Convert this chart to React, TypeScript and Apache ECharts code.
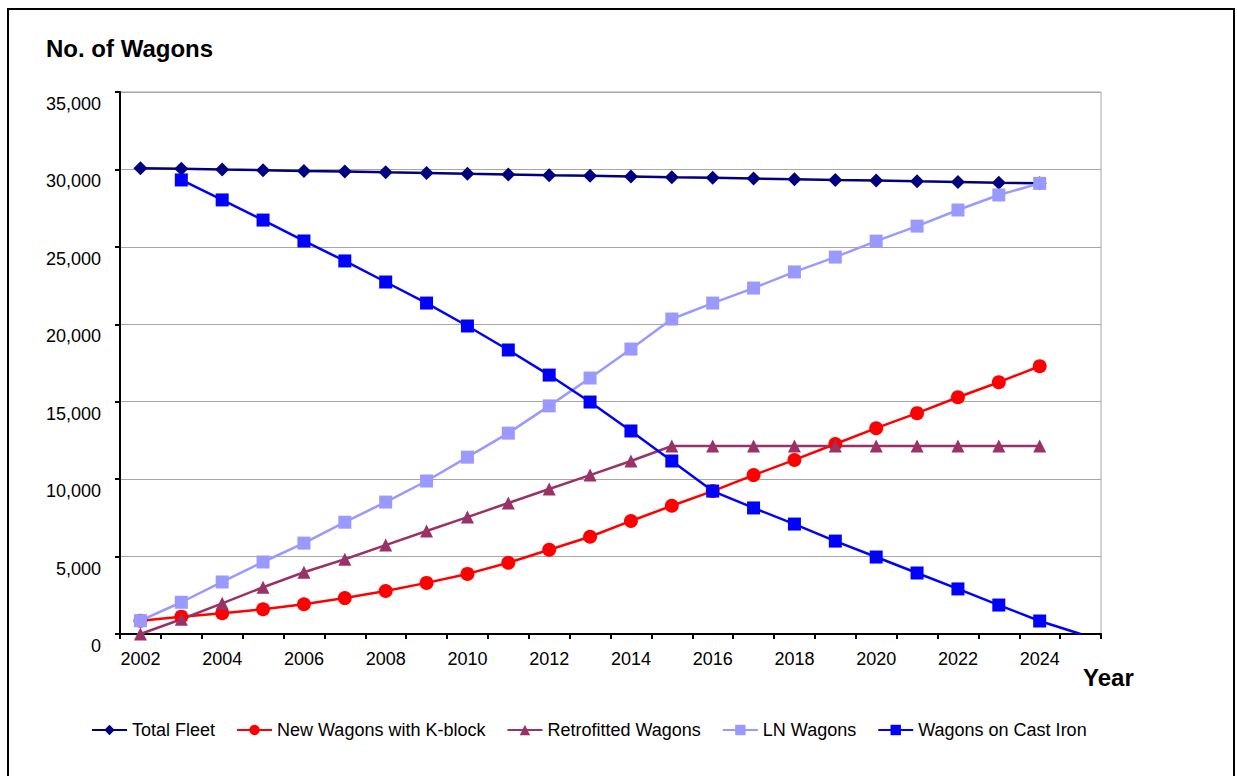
import React, { useEffect, useRef } from "react";
import * as echarts from "echarts";

const years = [
  "2002", "2003", "2004", "2005", "2006", "2007", "2008", "2009", "2010", "2011", "2012", "2013",
  "2014", "2015", "2016", "2017", "2018", "2019", "2020", "2021", "2022", "2023", "2024", "2025",
];

const totalFleet = [
  30080, 30040, 29990, 29950, 29900, 29860, 29810, 29770, 29720, 29680, 29630, 29590,
  29550, 29500, 29460, 29410, 29370, 29320, 29280, 29230, 29190, 29140, 29100, null,
];

const newKBlock = [
  860, 1120, 1340, 1600, 1920, 2320, 2780, 3300, 3880, 4600, 5440, 6280,
  7300, 8280, 9230, 10260, 11240, 12270, 13290, 14260, 15290, 16260, 17290, null,
];

const retrofitted = [
  0, 950, 1980, 3020, 3990, 4830, 5740, 6650, 7550, 8460, 9360, 10260,
  11170, 12140, 12140, 12140, 12140, 12140, 12140, 12140, 12140, 12140, 12140, null,
];

const lnWagons = [
  860, 2050, 3360, 4650, 5870, 7220, 8520, 9880, 11420, 12970, 14730, 16530,
  18400, 20340, 21370, 22340, 23380, 24340, 25370, 26340, 27380, 28350, 29100, null,
];

const castIron: (number | null)[] = [
  null, 29320, 28030, 26730, 25380, 24090, 22730, 21370, 19890, 18340, 16720, 14980,
  13110, 11170, 9230, 8140, 7100, 6000, 4970, 3940, 2910, 1870, 840, 0,
];

const seriesNames = [
  "Total Fleet",
  "New Wagons with K-block",
  "Retrofitted Wagons",
  "LN Wagons",
  "Wagons on Cast Iron",
];

const FONT = "'Liberation Sans', Arial, sans-serif";

export default function App() {
  const ref = useRef<HTMLDivElement>(null);

  useEffect(() => {
    if (!ref.current) return;
    document.body.style.margin = "0";
    const chart = echarts.init(ref.current, undefined, { renderer: "svg" });

    const mk = (
      name: string,
      data: any[],
      color: string,
      symbol: string,
      size: number
    ) => ({
      name,
      type: "line",
      data,
      symbol,
      symbolSize: size,
      showAllSymbol: true,
      lineStyle: { color, width: 2.5 },
      itemStyle: { color },
      clip: false,
      z: 2,
    });

    const castIronData = castIron.map((v, i) =>
      i === castIron.length - 1 ? { value: v, symbol: "none" } : v
    );

    chart.setOption({
      animation: false,
      textStyle: { fontFamily: FONT },
      grid: {
        left: 120,
        top: 92,
        right: 136,
        bottom: 142,
        show: true,
        borderColor: "#a6a6a6",
        borderWidth: 1,
      },
      legend: {
        left: 86,
        top: 716,
        itemWidth: 35,
        itemHeight: 13,
        itemGap: 21,
        textStyle: { fontSize: 18, color: "#000", fontFamily: FONT },
        data: seriesNames,
      },
      xAxis: {
        type: "category",
        data: years,
        boundaryGap: true,
        axisLine: { lineStyle: { color: "#000", width: 2 } },
        axisTick: { show: true, interval: 0, length: 5, lineStyle: { color: "#000", width: 2 } },
        axisLabel: { interval: 1, fontSize: 18, color: "#000", margin: 16, fontFamily: FONT },
        splitLine: { show: false },
      },
      yAxis: {
        type: "value",
        min: 0,
        max: 35000,
        interval: 5000,
        axisLine: { show: true, lineStyle: { color: "#000", width: 2 } },
        axisTick: { show: true, length: 5, lineStyle: { color: "#000", width: 2 } },
        axisLabel: {
          fontSize: 18,
          color: "#000",
          margin: 19,
          verticalAlign: "top",
          padding: [3, 0, 0, 0],
          fontFamily: FONT,
          formatter: (v: number) => v.toLocaleString("en-US"),
        },
        splitLine: { show: true, lineStyle: { color: "#a6a6a6", width: 1 } },
      },
      graphic: [
        {
          type: "rect",
          shape: { x: 8, y: 9, width: 1226, height: 900 },
          style: { fill: "none", stroke: "#000", lineWidth: 2 },
          silent: true,
        },
        {
          type: "text",
          left: 46,
          top: 36,
          style: {
            text: "No. of Wagons",
            font: `bold 24px ${FONT}`,
            fill: "#000",
          },
        },
        {
          type: "text",
          left: 1083,
          top: 665,
          style: {
            text: "Year",
            font: `bold 24px ${FONT}`,
            fill: "#000",
          },
        },
      ],
      series: [
        mk(seriesNames[0], totalFleet, "#000080", "diamond", 14),
        mk(seriesNames[1], newKBlock, "#ff0000", "circle", 14),
        mk(seriesNames[2], retrofitted, "#993366", "triangle", 13),
        mk(seriesNames[3], lnWagons, "#9999ff", "rect", 13),
        mk(seriesNames[4], castIronData, "#0000ff", "rect", 13),
      ],
    });

    return () => chart.dispose();
  }, []);

  return <div ref={ref} style={{ width: 1237, height: 776 }} />;
}
